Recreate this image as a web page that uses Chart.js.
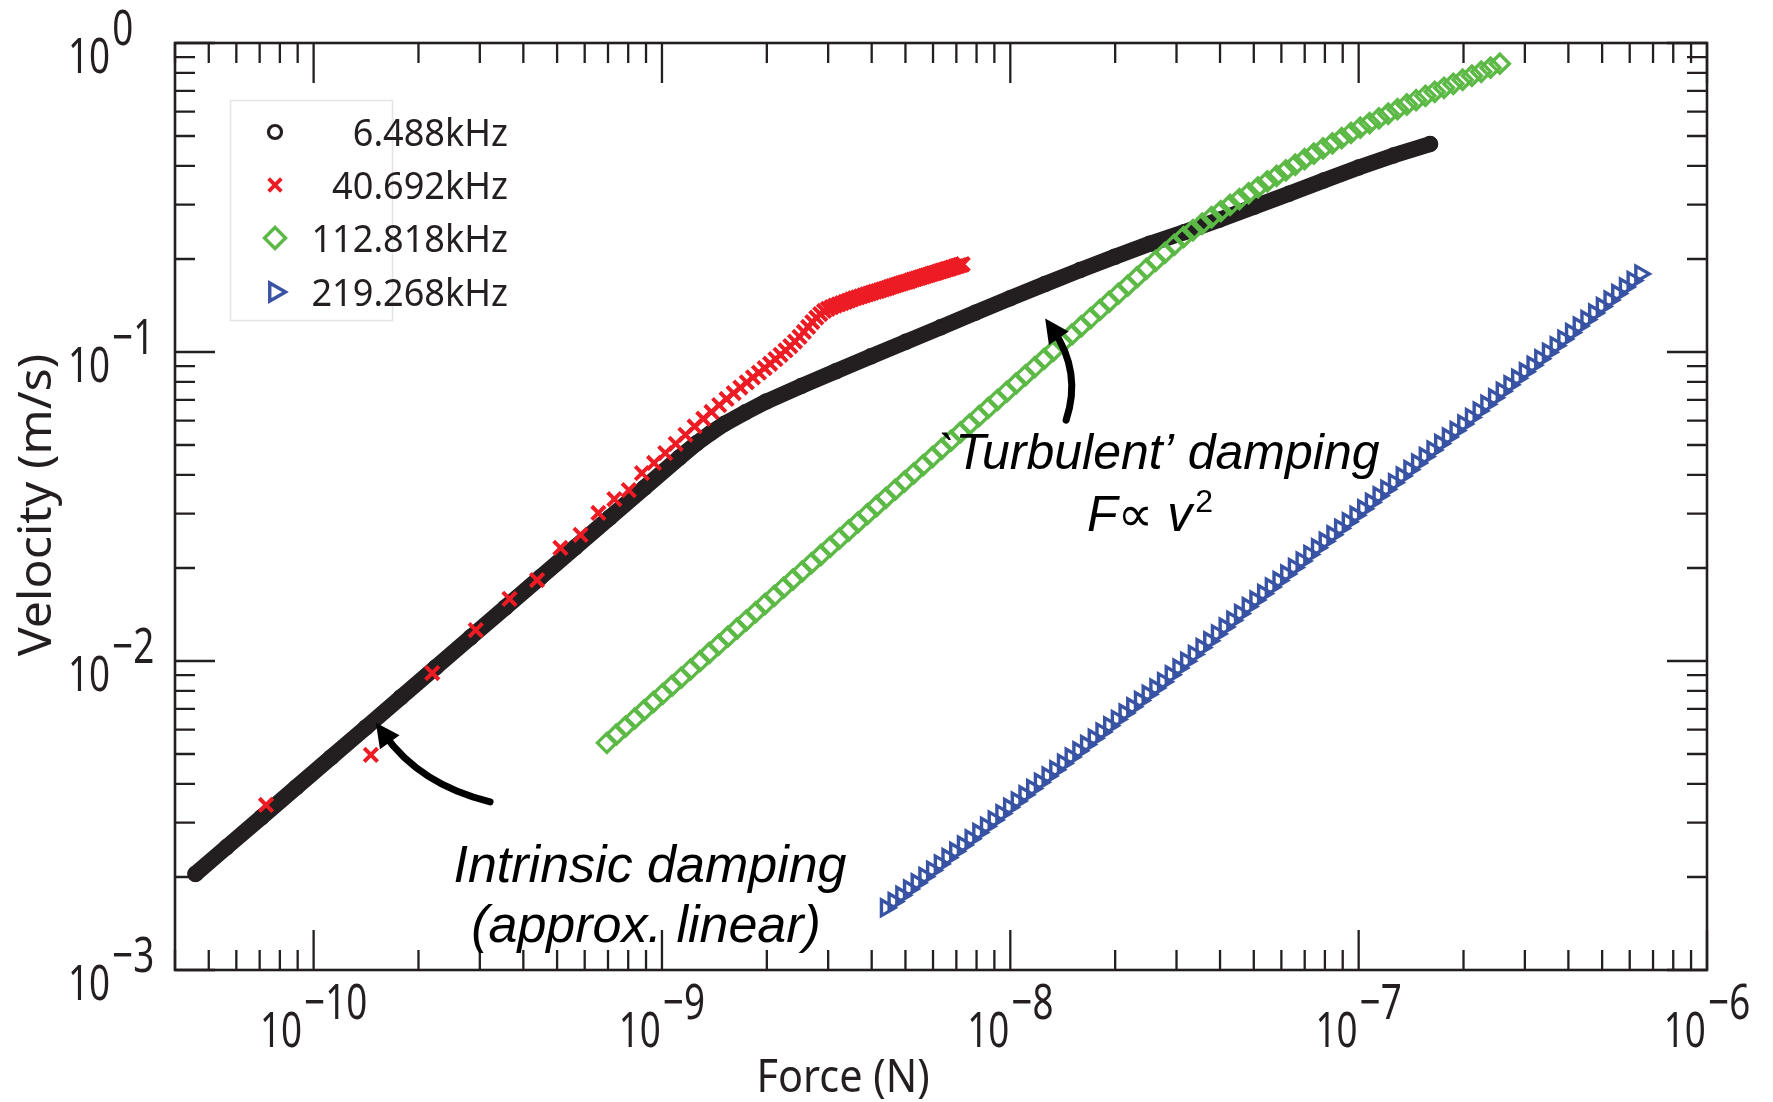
<!DOCTYPE html>
<html><head><meta charset="utf-8">
<script src="https://cdn.jsdelivr.net/npm/chart.js@4.4.0/dist/chart.umd.min.js"></script>
<style>html,body{margin:0;padding:0;background:#fff;}canvas{display:block;}</style>
</head><body>
<canvas id="c" width="1773" height="1102"></canvas>
<script>
// ---------------- data ----------------
const seriesNames = ['6.488kHz', '40.692kHz', '112.818kHz', '219.268kHz'];
const xTickExponents = [-10, -9, -8, -7, -6];
const yTickExponents = [-3, -2, -1, 0];
const xTitle = 'Force (N)';
const yTitle = 'Velocity (m/s)';

const blackF = [4.58e-11, 5.62e-11, 7.08e-11, 8.91e-11, 1.122e-10, 1.413e-10, 1.778e-10, 2.239e-10, 2.818e-10, 3.548e-10,
  4.467e-10, 5.623e-10, 7.079e-10, 8.913e-10, 1.122e-9, 1.259e-9, 1.380e-9, 1.514e-9, 1.738e-9, 1.995e-9,
  2.512e-9, 3.162e-9, 3.981e-9, 5.012e-9, 6.310e-9, 7.943e-9, 1.0e-8, 1.259e-8, 1.585e-8, 1.995e-8,
  2.512e-8, 3.162e-8, 3.981e-8, 5.012e-8, 6.310e-8, 7.943e-8, 1.0e-7, 1.259e-7, 1.603e-7];
const blackV = [2.046e-3, 2.495e-3, 3.119e-3, 3.899e-3, 4.875e-3, 6.095e-3, 7.621e-3, 9.528e-3, 1.191e-2, 1.489e-2,
  1.862e-2, 2.328e-2, 2.911e-2, 3.639e-2, 4.550e-2, 5.070e-2, 5.470e-2, 5.861e-2, 6.383e-2, 6.918e-2,
  7.762e-2, 8.670e-2, 9.683e-2, 0.1079, 0.1202, 0.1340, 0.1493, 0.1660, 0.1841, 0.2032,
  0.2239, 0.2443, 0.2679, 0.2951, 0.3251, 0.3589, 0.3954, 0.4325, 0.4710];

const redF = [7.3e-11, 1.46e-10, 2.19e-10, 2.92e-10, 3.65e-10, 4.38e-10, 5.11e-10, 5.84e-10, 6.57e-10, 7.30e-10,
  8.03e-10, 8.76e-10, 9.49e-10, 1.022e-9, 1.095e-9, 1.168e-9, 1.241e-9, 1.314e-9, 1.387e-9, 1.460e-9,
  1.533e-9, 1.606e-9, 1.679e-9, 1.752e-9, 1.825e-9, 1.898e-9, 1.971e-9, 2.044e-9, 2.117e-9, 2.190e-9,
  2.263e-9, 2.336e-9, 2.409e-9, 2.482e-9, 2.555e-9, 2.628e-9, 2.701e-9, 2.774e-9, 2.847e-9, 2.920e-9,
  2.993e-9, 3.066e-9, 3.139e-9, 3.212e-9, 3.285e-9, 3.358e-9, 3.431e-9, 3.504e-9, 3.577e-9, 3.650e-9,
  3.723e-9, 3.796e-9, 3.869e-9, 3.942e-9, 4.015e-9, 4.088e-9, 4.161e-9, 4.234e-9, 4.307e-9, 4.380e-9,
  4.453e-9, 4.526e-9, 4.599e-9, 4.672e-9, 4.745e-9, 4.818e-9, 4.891e-9, 4.964e-9, 5.037e-9, 5.110e-9,
  5.183e-9, 5.256e-9, 5.329e-9, 5.402e-9, 5.475e-9, 5.548e-9, 5.621e-9, 5.694e-9, 5.767e-9, 5.840e-9,
  5.913e-9, 5.986e-9, 6.059e-9, 6.132e-9, 6.205e-9, 6.278e-9, 6.351e-9, 6.424e-9, 6.497e-9, 6.570e-9,
  6.643e-9, 6.716e-9, 6.789e-9, 6.862e-9, 6.935e-9, 7.008e-9, 7.081e-9, 7.154e-9, 7.227e-9, 7.300e-9];
const redV = [3.42e-3, 4.97e-3, 9.14e-3, 1.259e-2, 1.589e-2, 1.828e-2, 2.323e-2, 2.559e-2, 3.013e-2, 3.342e-2,
  3.573e-2, 4.055e-2, 4.375e-2, 4.710e-2, 5.047e-2, 5.395e-2, 5.741e-2, 6.081e-2, 6.397e-2, 6.730e-2,
  7.047e-2, 7.362e-2, 7.674e-2, 7.980e-2, 8.279e-2, 8.570e-2, 8.872e-2, 9.162e-2, 9.484e-2, 9.795e-2,
  0.1012, 0.1045, 0.1081, 0.1119, 0.1161, 0.1205, 0.1250, 0.1291, 0.1327, 0.1358,
  0.1380, 0.1396, 0.1413, 0.1426, 0.1439, 0.1452, 0.1466, 0.1479, 0.1493, 0.1503,
  0.1514, 0.1524, 0.1535, 0.1545, 0.1556, 0.1567, 0.1574, 0.1585, 0.1596, 0.1603,
  0.1614, 0.1626, 0.1633, 0.1644, 0.1652, 0.1660, 0.1671, 0.1679, 0.1687, 0.1694,
  0.1706, 0.1714, 0.1722, 0.1730, 0.1738, 0.1746, 0.1754, 0.1762, 0.1770, 0.1778,
  0.1786, 0.1795, 0.1799, 0.1807, 0.1816, 0.1824, 0.1832, 0.1837, 0.1845, 0.1854,
  0.1858, 0.1866, 0.1875, 0.1879, 0.1888, 0.1897, 0.1901, 0.1910, 0.1914, 0.1923];

const greenF = [6.950e-10, 7.391e-10, 7.859e-10, 8.358e-10, 8.888e-10, 9.451e-10, 1.0051e-9, 1.0688e-9, 1.1366e-9, 1.2086e-9,
  1.2853e-9, 1.3668e-9, 1.4535e-9, 1.5456e-9, 1.6436e-9, 1.7478e-9, 1.8587e-9, 1.9765e-9, 2.1019e-9, 2.2351e-9,
  2.3769e-9, 2.5276e-9, 2.6879e-9, 2.8583e-9, 3.0396e-9, 3.2323e-9, 3.4373e-9, 3.6552e-9, 3.8870e-9, 4.1335e-9,
  4.3956e-9, 4.6743e-9, 4.9707e-9, 5.2859e-9, 5.6211e-9, 5.9775e-9, 6.3566e-9, 6.7596e-9, 7.1883e-9, 7.6441e-9,
  8.1288e-9, 8.6442e-9, 9.1924e-9, 9.7753e-9, 1.0395e-8, 1.1054e-8, 1.1755e-8, 1.2501e-8, 1.3293e-8, 1.4136e-8,
  1.5033e-8, 1.5986e-8, 1.6999e-8, 1.8077e-8, 1.9224e-8, 2.0443e-8, 2.1739e-8, 2.3117e-8, 2.4583e-8, 2.6142e-8,
  2.7800e-8, 2.9562e-8, 3.1437e-8, 3.3430e-8, 3.5550e-8, 3.7804e-8, 4.0202e-8, 4.2751e-8, 4.5461e-8, 4.8344e-8,
  5.1410e-8, 5.4670e-8, 5.8136e-8, 6.1823e-8, 6.5743e-8, 6.9911e-8, 7.4344e-8, 7.9058e-8, 8.4072e-8, 8.9402e-8,
  9.5071e-8, 1.0110e-7, 1.0751e-7, 1.1433e-7, 1.2158e-7, 1.2929e-7, 1.3749e-7, 1.4620e-7, 1.5547e-7, 1.6533e-7,
  1.7582e-7, 1.8697e-7, 1.9882e-7, 2.1143e-7, 2.2483e-7, 2.3909e-7, 2.5425e-7];
const greenV = [5.433e-3, 5.774e-3, 6.136e-3, 6.521e-3, 6.931e-3, 7.366e-3, 7.828e-3, 8.319e-3, 8.841e-3, 9.396e-3,
  9.986e-3, 1.0613e-2, 1.1279e-2, 1.1987e-2, 1.2739e-2, 1.3539e-2, 1.4388e-2, 1.5291e-2, 1.6251e-2, 1.7271e-2,
  1.8355e-2, 1.9507e-2, 2.0731e-2, 2.2032e-2, 2.3415e-2, 2.4884e-2, 2.6446e-2, 2.8106e-2, 2.9870e-2, 3.1744e-2,
  3.3737e-2, 3.5854e-2, 3.8104e-2, 4.0495e-2, 4.3037e-2, 4.5738e-2, 4.8608e-2, 5.1659e-2, 5.4901e-2, 5.8347e-2,
  6.2008e-2, 6.5900e-2, 7.0036e-2, 7.4431e-2, 7.9102e-2, 8.4067e-2, 8.9343e-2, 9.4950e-2, 0.10091, 0.10724,
  0.11397, 0.12113, 0.12873, 0.13681, 0.14539, 0.15452, 0.1641, 0.1746, 0.1858, 0.1972,
  0.2094, 0.2223, 0.2355, 0.2477, 0.2600, 0.2729, 0.2858, 0.2992, 0.3126, 0.3266,
  0.3412, 0.3565, 0.3715, 0.3873, 0.4036, 0.4207, 0.4385, 0.4560, 0.4732, 0.4920,
  0.5117, 0.5321, 0.5508, 0.5702, 0.5902, 0.6109, 0.6324, 0.6531, 0.6745, 0.6950,
  0.7161, 0.7379, 0.7603, 0.7834, 0.8072, 0.8318, 0.8570];

const blueF = [4.395e-9, 4.624e-9, 4.866e-9, 5.120e-9, 5.387e-9, 5.668e-9, 5.964e-9, 6.276e-9, 6.603e-9, 6.948e-9,
  7.311e-9, 7.692e-9, 8.094e-9, 8.516e-9, 8.961e-9, 9.428e-9, 9.921e-9, 1.0438e-8, 1.0983e-8, 1.1557e-8,
  1.2160e-8, 1.2795e-8, 1.3463e-8, 1.4165e-8, 1.4905e-8, 1.5683e-8, 1.6501e-8, 1.7363e-8, 1.8269e-8, 1.9223e-8,
  2.0226e-8, 2.1282e-8, 2.2393e-8, 2.3562e-8, 2.4792e-8, 2.6086e-8, 2.7447e-8, 2.8880e-8, 3.0388e-8, 3.1974e-8,
  3.3643e-8, 3.5399e-8, 3.7247e-8, 3.9191e-8, 4.1237e-8, 4.3390e-8, 4.5655e-8, 4.8038e-8, 5.0545e-8, 5.3184e-8,
  5.5960e-8, 5.8881e-8, 6.1955e-8, 6.5189e-8, 6.8592e-8, 7.2172e-8, 7.5940e-8, 7.9904e-8, 8.4075e-8, 8.8463e-8,
  9.3081e-8, 9.7940e-8, 1.0305e-7, 1.0843e-7, 1.1409e-7, 1.2005e-7, 1.2631e-7, 1.3291e-7, 1.3985e-7, 1.4715e-7,
  1.5483e-7, 1.6291e-7, 1.7141e-7, 1.8036e-7, 1.8978e-7, 1.9968e-7, 2.1010e-7, 2.2107e-7, 2.3261e-7, 2.4475e-7,
  2.5753e-7, 2.7097e-7, 2.8512e-7, 3.0000e-7, 3.1566e-7, 3.3214e-7, 3.4948e-7, 3.6772e-7, 3.8692e-7, 4.0711e-7,
  4.2836e-7, 4.5073e-7, 4.7425e-7, 4.9901e-7, 5.2506e-7, 5.5247e-7, 5.8130e-7, 6.1165e-7, 6.4358e-7];
const blueV = [1.589e-3, 1.665e-3, 1.745e-3, 1.828e-3, 1.916e-3, 2.008e-3, 2.104e-3, 2.205e-3, 2.311e-3, 2.421e-3,
  2.538e-3, 2.659e-3, 2.787e-3, 2.920e-3, 3.060e-3, 3.207e-3, 3.361e-3, 3.522e-3, 3.690e-3, 3.867e-3,
  4.053e-3, 4.247e-3, 4.450e-3, 4.664e-3, 4.887e-3, 5.122e-3, 5.367e-3, 5.624e-3, 5.894e-3, 6.176e-3,
  6.472e-3, 6.783e-3, 7.108e-3, 7.448e-3, 7.805e-3, 8.180e-3, 8.572e-3, 9.019e-3, 9.490e-3, 9.985e-3,
  1.0506e-2, 1.1055e-2, 1.1632e-2, 1.2239e-2, 1.2878e-2, 1.3550e-2, 1.4257e-2, 1.5002e-2, 1.5749e-2, 1.6533e-2,
  1.7357e-2, 1.8221e-2, 1.9129e-2, 2.0082e-2, 2.1082e-2, 2.2132e-2, 2.3235e-2, 2.4392e-2, 2.5607e-2, 2.6882e-2,
  2.8221e-2, 2.9627e-2, 3.1103e-2, 3.2652e-2, 3.4278e-2, 3.5986e-2, 3.7778e-2, 3.9660e-2, 4.1635e-2, 4.3709e-2,
  4.5886e-2, 4.8172e-2, 5.0571e-2, 5.3090e-2, 5.5735e-2, 5.8511e-2, 6.1425e-2, 6.4485e-2, 6.7697e-2, 7.1069e-2,
  7.4608e-2, 7.8325e-2, 8.2226e-2, 8.6321e-2, 9.0621e-2, 9.5135e-2, 9.9873e-2, 0.10485, 0.11007, 0.11555,
  0.12131, 0.12735, 0.13369, 0.14035, 0.14734, 0.15468, 0.16239, 0.17048, 0.17897];

// annotation text & anchors (in data units: [force, velocity])
const noteIntrinsic = ['Intrinsic damping', '(approx. linear)'];
const noteTurbulent = ['`Turbulent\u2019 damping', 'F\u221D v', '2'];
const noteIntrinsicAt = [[9.24e-10, 1.926e-3], [9.00e-10, 1.232e-3]];
const noteTurbulentAt = [[2.673e-8, 4.18e-2], [2.518e-8, 2.634e-2]];
const arrowIntrinsic = {from: [3.21e-10, 3.50e-3], ctrl: [2.02e-10, 3.97e-3], to: [1.592e-10, 5.80e-3]};
const arrowTurbulent = {from: [1.446e-8, 6.02e-2], ctrl: [1.607e-8, 8.616e-2], to: [1.327e-8, 0.1178]};

// ---------------- styles ----------------
const INK = '#231f20';
const COLORS = ['#231f20', '#ed1c24', '#5cb946', '#3853a4'];
const TICK_FONT = '49px "Noto Sans", "Open Sans", sans-serif';
const TICK_SX = 0.75;
const NOTE_FONT = 'italic 52px "Liberation Sans", Arial, "DejaVu Sans", sans-serif';

const toPts = (F, V) => F.map((f, i) => ({x: f, y: V[i]}));

function drawPow(ctx, left, baseY, exp) {
  const e = exp === 0 ? '0' : '\u2212' + Math.abs(exp);
  ctx.save();
  ctx.font = TICK_FONT;
  ctx.textAlign = 'left';
  ctx.textBaseline = 'alphabetic';
  ctx.translate(left, baseY);
  ctx.scale(TICK_SX, 1);
  ctx.fillText('10', 0, 0);
  const w = ctx.measureText('10').width;
  ctx.fillText(e, w + 3, -28.5);
  ctx.restore();
}
function powWidth(ctx, exp) {
  const e = exp === 0 ? '0' : '\u2212' + Math.abs(exp);
  ctx.save();
  ctx.font = TICK_FONT;
  const w = (ctx.measureText('10').width + 3 + ctx.measureText(e).width) * TICK_SX;
  ctx.restore();
  return w;
}

function legendMarker(ctx, style, x, y, r, rot, color, lw) {
  ctx.save();
  ctx.strokeStyle = color; ctx.fillStyle = 'rgba(0,0,0,0)'; ctx.lineWidth = lw;
  if (Chart.helpers && Chart.helpers.drawPoint) {
    Chart.helpers.drawPoint(ctx, {pointStyle: style, radius: r, rotation: rot, borderWidth: lw}, x, y);
  }
  ctx.restore();
}

function drawArrow(ctx, xs, ys, arr) {
  const P0 = [xs.getPixelForValue(arr.from[0]), ys.getPixelForValue(arr.from[1])];
  const C = [xs.getPixelForValue(arr.ctrl[0]), ys.getPixelForValue(arr.ctrl[1])];
  const P2 = [xs.getPixelForValue(arr.to[0]), ys.getPixelForValue(arr.to[1])];
  ctx.save();
  ctx.strokeStyle = '#000'; ctx.fillStyle = '#000';
  ctx.lineWidth = 7; ctx.lineCap = 'round';
  ctx.beginPath(); ctx.moveTo(P0[0], P0[1]); ctx.quadraticCurveTo(C[0], C[1], P2[0], P2[1]); ctx.stroke();
  let dx = P2[0] - C[0], dy = P2[1] - C[1];
  const L = Math.hypot(dx, dy); dx /= L; dy /= L;
  const tip = [P2[0] + dx * 14, P2[1] + dy * 14];
  const bx = tip[0] - dx * 24, by = tip[1] - dy * 24;
  ctx.beginPath();
  ctx.moveTo(tip[0], tip[1]);
  ctx.lineTo(bx - dy * 12, by + dx * 12);
  ctx.lineTo(bx + dy * 12, by - dx * 12);
  ctx.closePath(); ctx.fill();
  ctx.restore();
}

const framePlugin = {
  id: 'frame',
  afterDatasetsDraw(chart) {
    const {ctx, chartArea: a, scales} = chart;
    const xs = scales.x, ys = scales.y;
    const MAJOR = 40, MINOR = 20;
    ctx.save();
    // ticks
    ctx.strokeStyle = INK; ctx.lineWidth = 2.3;
    ctx.beginPath();
    const xDecs = [xTickExponents[0] - 1, ...xTickExponents];
    for (const d of xDecs) for (let m = 1; m <= 9; m++) {
      const v = Number(m + 'e' + d);
      if (v < xs.min * 0.999 || v > xs.max * 1.001) continue;
      const p = xs.getPixelForValue(v);
      const len = m === 1 ? MAJOR : MINOR;
      ctx.moveTo(p, a.bottom); ctx.lineTo(p, a.bottom - len);
      ctx.moveTo(p, a.top); ctx.lineTo(p, a.top + len);
    }
    for (const d of yTickExponents) for (let m = 1; m <= 9; m++) {
      const v = Number(m + 'e' + d);
      if (v < ys.min * 0.999 || v > ys.max * 1.001) continue;
      const p = ys.getPixelForValue(v);
      const len = m === 1 ? MAJOR : MINOR;
      ctx.moveTo(a.left, p); ctx.lineTo(a.left + len, p);
      ctx.moveTo(a.right, p); ctx.lineTo(a.right - len, p);
    }
    ctx.stroke();
    // frame
    ctx.lineWidth = 2.6;
    ctx.strokeRect(a.left, a.top, a.right - a.left, a.bottom - a.top);

    // tick labels
    ctx.fillStyle = INK;
    for (const e of xTickExponents) {
      const p = xs.getPixelForValue(Number('1e' + e));
      drawPow(ctx, p - powWidth(ctx, e) / 2, a.bottom + 77, e);
    }
    for (const e of yTickExponents) {
      const p = ys.getPixelForValue(Number('1e' + e));
      drawPow(ctx, 68, p + 30, e);
    }

    // axis titles
    ctx.save();
    ctx.font = '46px "Noto Sans", "Open Sans", sans-serif';
    ctx.textAlign = 'center'; ctx.textBaseline = 'alphabetic';
    ctx.translate(843, 1092); ctx.scale(0.9, 1);
    ctx.fillText(xTitle, 0, 0);
    ctx.restore();
    ctx.save();
    ctx.font = '46px "Noto Sans", "Open Sans", sans-serif';
    ctx.textAlign = 'center'; ctx.textBaseline = 'alphabetic';
    ctx.translate(51, 505); ctx.rotate(-Math.PI / 2); ctx.scale(1.05, 1);
    ctx.fillText(yTitle, 0, 0);
    ctx.restore();

    // legend
    ctx.save();
    ctx.strokeStyle = '#e4e4e4'; ctx.lineWidth = 1.5;
    ctx.strokeRect(230.5, 100.5, 162, 220);
    const rows = [132, 185, 238, 292];
    const mk = [
      {s: 'circle', r: 6.5, rot: 0, lw: 3.2},
      {s: 'crossRot', r: 9, rot: 0, lw: 3.8},
      {s: 'rectRot', r: 10.5, rot: 0, lw: 3.4},
      {s: 'triangle', r: 10.5, rot: 90, lw: 3.4}
    ];
    chart.data.datasets.forEach((ds, i) => {
      legendMarker(ctx, mk[i].s, 275, rows[i], mk[i].r, mk[i].rot, COLORS[i], mk[i].lw);
      ctx.save();
      ctx.fillStyle = INK;
      ctx.font = '38px "Noto Sans", "Open Sans", sans-serif';
      ctx.textAlign = 'right'; ctx.textBaseline = 'alphabetic';
      ctx.translate(508, rows[i] + 14); ctx.scale(0.95, 1);
      ctx.fillText(ds.label, 0, 0);
      ctx.restore();
    });
    ctx.restore();

    // annotations
    drawArrow(ctx, xs, ys, arrowIntrinsic);
    drawArrow(ctx, xs, ys, arrowTurbulent);
    ctx.fillStyle = '#000';
    ctx.textAlign = 'center'; ctx.textBaseline = 'alphabetic';
    ctx.font = NOTE_FONT;
    noteIntrinsic.forEach((t, i) => {
      ctx.fillText(t, xs.getPixelForValue(noteIntrinsicAt[i][0]), ys.getPixelForValue(noteIntrinsicAt[i][1]));
    });
    ctx.font = 'italic 50px "Liberation Sans", Arial, "DejaVu Sans", sans-serif';
    ctx.fillText(noteTurbulent[0], xs.getPixelForValue(noteTurbulentAt[0][0]), ys.getPixelForValue(noteTurbulentAt[0][1]));
    // F ∝ v^2
    const cx = xs.getPixelForValue(noteTurbulentAt[1][0]);
    const cy = ys.getPixelForValue(noteTurbulentAt[1][1]);
    const mainFont = 'italic 50px "Liberation Sans", Arial, "DejaVu Sans", sans-serif';
    const supFont = '32px "Liberation Sans", Arial, sans-serif';
    ctx.font = mainFont;
    const w1 = ctx.measureText(noteTurbulent[1]).width;
    ctx.font = supFont;
    const w2 = ctx.measureText(noteTurbulent[2]).width;
    const start = cx - (w1 + w2 + 3) / 2;
    ctx.textAlign = 'left';
    ctx.font = mainFont;
    ctx.fillText(noteTurbulent[1], start, cy);
    ctx.font = supFont;
    ctx.fillText(noteTurbulent[2], start + w1 + 3, cy - 19);
    ctx.restore();
  }
};

new Chart(document.getElementById('c'), {
  type: 'scatter',
  data: {
    datasets: [
      {label: seriesNames[0], data: toPts(blackF, blackV), showLine: true,
        borderColor: COLORS[0], borderWidth: 16, borderCapStyle: 'round', borderJoinStyle: 'round',
        pointStyle: 'circle', pointRadius: 7, pointBorderWidth: 2.5, pointBorderColor: COLORS[0],
        pointBackgroundColor: 'rgba(0,0,0,0)', order: 4},
      {label: seriesNames[1], data: toPts(redF, redV), showLine: false,
        pointStyle: 'crossRot', pointRadius: 9.5, pointBorderWidth: 4, pointBorderColor: COLORS[1],
        pointBackgroundColor: 'rgba(0,0,0,0)', order: 3},
      {label: seriesNames[2], data: toPts(greenF, greenV), showLine: false,
        pointStyle: 'rectRot', pointRadius: 9.5, pointBorderWidth: 3.4, pointBorderColor: COLORS[2],
        pointBackgroundColor: 'rgba(0,0,0,0)', order: 2},
      {label: seriesNames[3], data: toPts(blueF, blueV), showLine: false,
        pointStyle: 'triangle', pointRotation: 90, pointRadius: 9, pointBorderWidth: 3.4, pointBorderColor: COLORS[3],
        pointBackgroundColor: 'rgba(0,0,0,0)', order: 1}
    ]
  },
  options: {
    responsive: false, animation: false, devicePixelRatio: 1, events: [],
    layout: {padding: {left: 0, top: 43, right: 66, bottom: 0}},
    plugins: {legend: {display: false}, tooltip: {enabled: false}, title: {display: false}},
    scales: {
      x: {type: 'logarithmic', min: 4e-11, max: 1e-6, ticks: {display: false}, grid: {display: false},
        border: {display: false}, afterFit(s) { s.height = 132; }},
      y: {type: 'logarithmic', min: 1e-3, max: 1, ticks: {display: false}, grid: {display: false},
        border: {display: false}, afterFit(s) { s.width = 175; }}
    }
  },
  plugins: [framePlugin]
});
</script>
</body></html>
